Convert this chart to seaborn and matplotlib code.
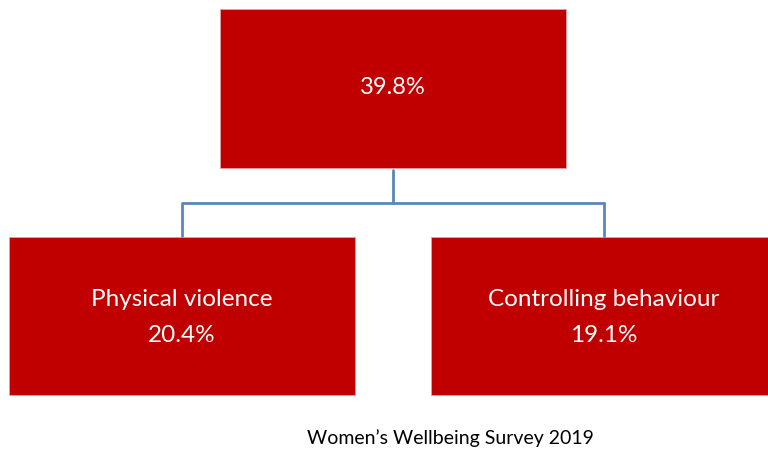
import matplotlib
matplotlib.use("Agg")
import matplotlib.pyplot as plt
import seaborn as sns
from matplotlib.patches import Rectangle

# data
top_value = "39.8%"
child_labels = ["Physical violence", "Controlling behaviour"]
child_values = ["20.4%", "19.1%"]
caption = "Women\u2019s Wellbeing Survey 2019"

box_color = "#C00000"
line_color = "#5B87B5"

sns.set_theme(style="white")
plt.rcParams['font.family'] = ['Lato', 'DejaVu Sans']

fig = plt.figure(figsize=(7.68, 4.5), dpi=100)
ax = fig.add_axes([0, 0, 1, 1])
ax.set_xlim(0, 768)
ax.set_ylim(450, 0)
ax.axis("off")

# boxes (x, y, w, h) in pixel layout
top_box = (220, 9, 346, 159)
child_boxes = [(9, 237, 346, 158), (431, 237, 345, 158)]

ax.add_patch(Rectangle(top_box[:2], top_box[2], top_box[3], facecolor=box_color,
                       edgecolor="#E8A0A0", lw=0.6))
ax.text(top_box[0] + top_box[2] / 2, 88, top_value, ha="center", va="center",
        color="white", fontsize=17)

# connectors
ax.plot([393, 393], [170, 203], color=line_color, lw=2)
ax.plot([183, 604], [203, 203], color=line_color, lw=2)
for (x, y, w, h) in child_boxes:
    cx = x + w / 2
    ax.plot([cx, cx], [203, 236], color=line_color, lw=2)

for (x, y, w, h), lab, val in zip(child_boxes, child_labels, child_values):
    ax.add_patch(Rectangle((x, y), w, h, facecolor=box_color, edgecolor="#E8A0A0", lw=0.6))
    ax.text(x + w / 2, 299, lab, ha="center", va="center", color="white", fontsize=17.5)
    ax.text(x + w / 2, 336, val, ha="center", va="center", color="white", fontsize=17.5)

ax.text(450, 438, caption, ha="center", va="center", color="black", fontsize=14)

fig.savefig("out.png", dpi=100)
